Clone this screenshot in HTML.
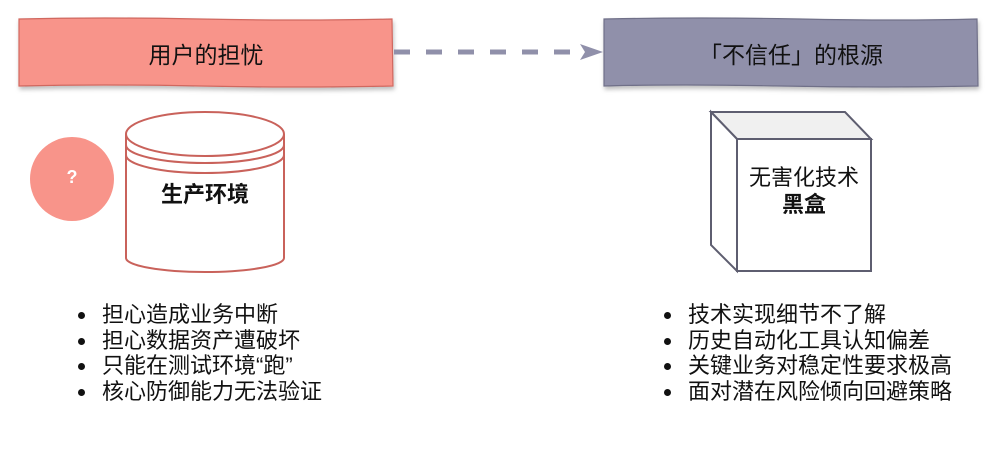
<!DOCTYPE html>
<html><head><meta charset="utf-8"><style>
body{margin:0;width:1000px;height:450px;background:#fff;overflow:hidden;font-family:"Liberation Sans","Noto Sans CJK SC",sans-serif;position:relative}
.t{position:absolute;color:#111;white-space:nowrap}
ul{position:absolute;margin:0;padding:0;list-style:none;font-size:22px;line-height:25.5px;color:#111}
li{position:relative;padding-left:24px}
li:before{content:"";position:absolute;left:0;top:10px;width:7px;height:7px;border-radius:50%;background:#111}
</style></head><body>
<svg width="1000" height="450" style="position:absolute;left:0;top:0">
<defs><filter id="s" x="-5%" y="-20%" width="110%" height="150%"><feDropShadow dx="1" dy="3" stdDeviation="2" flood-color="#000" flood-opacity="0.25"/></filter></defs>
<path d="M19,19 Q100,17 200,19 T392,19 L393,86 Q300,88 200,86 T19,86 Z" fill="#f8948a" stroke="#d0675f" stroke-width="1.2" filter="url(#s)"/>
<path d="M604,19 Q700,17 800,19 T977,19 L978,86 Q880,88 780,86 T604,86 Z" fill="#9090aa" stroke="#6f6f88" stroke-width="1.2" filter="url(#s)"/>
<line x1="394" y1="52" x2="584" y2="52" stroke="#9090aa" stroke-width="5" stroke-dasharray="16,16"/>
<path d="M580,44 L603,52 L580,60 L585,52 Z" fill="#9090aa"/>
<circle cx="72" cy="179" r="42" fill="#f8948a"/>
<path d="M126,134 L126,258 A79,14 0 0 0 284,258 L284,134" fill="#fff" stroke="#c9625b" stroke-width="2"/>
<ellipse cx="205" cy="134" rx="79" ry="22" fill="#fff" stroke="#c9625b" stroke-width="2"/>
<path d="M126,145 A79,18 0 0 0 284,145 M126,155 A79,18 0 0 0 284,155" fill="none" stroke="#c9625b" stroke-width="2"/>
<path d="M711,112 L845,112 L871,139 L737,139 Z" fill="#f0f0f0" stroke="#5e5e70" stroke-width="2"/>
<path d="M711,112 L737,139 L737,271 L711,245 Z" fill="#fff" stroke="#5e5e70" stroke-width="2"/>
<rect x="737" y="139" width="134" height="132" fill="#fff" stroke="#5e5e70" stroke-width="2"/>
</svg>
<div class="t" style="left:19px;width:374px;top:36px;text-align:center;font-size:23px">用户的担忧</div>
<div class="t" style="left:604px;width:374px;top:36px;text-align:center;font-size:23px">「不信任」的根源</div>
<div class="t" style="left:52px;width:40px;top:167px;text-align:center;font-size:18px;color:#fff;font-weight:bold">?</div>
<div class="t" style="left:126px;width:158px;top:177px;text-align:center;font-size:22px;font-weight:bold">生产环境</div>
<div class="t" style="left:737px;width:134px;top:164px;text-align:center;font-size:22px;line-height:27px">无害化技术<br><b>黑盒</b></div>
<ul style="left:78px;top:302px"><li>担心造成业务中断</li><li>担心数据资产遭破坏</li><li>只能在测试环境“跑”</li><li>核心防御能力无法验证</li></ul>
<ul style="left:664px;top:302px"><li>技术实现细节不了解</li><li>历史自动化工具认知偏差</li><li>关键业务对稳定性要求极高</li><li>面对潜在风险倾向回避策略</li></ul>
</body></html>
